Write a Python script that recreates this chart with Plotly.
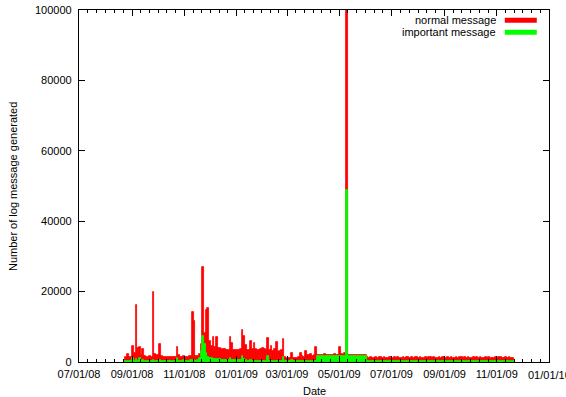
import pandas as pd
import numpy as np
import plotly.graph_objects as go

# ---- data (2-day bins starting 2008-08-22) ----
start_date = "2008-08-22"
bin_days = 2

normal_msg = [
    600, 1500, 2400, 1400, 1300, 4500, 2500, 16200, 3900, 4300,
    2000, 3600, 1800, 1500, 1400, 1600, 1500, 19800, 2200, 2000,
    1900, 5000, 1800, 1500, 1400, 1300, 1500, 1300, 1400, 1500,
    1400, 4300, 2000, 1500, 1400, 1600, 1500, 1400, 1700, 1600,
    14200, 11600, 1800, 1700, 2200, 5200, 27000, 8200, 14800, 15400,
    6000, 4500, 7000, 4200, 7000, 4000, 3900, 3800, 3700, 3600,
    3500, 3400, 7000, 5500, 3400, 3500, 3300, 3400, 3600, 9100,
    7300, 4800, 3500, 3400, 6000, 3600, 5300, 3700, 3500, 3400,
    3600, 4000, 3600, 3500, 6900, 3500, 4600, 3200, 3600, 5600,
    2800, 3000, 3400, 6500, 1500, 1200, 1100, 1000, 2500, 1200,
    1000, 1100, 1300, 2700, 1800, 1400, 3100, 2000, 1900, 2400,
    1800, 2100, 4300, 2100, 2000, 2100, 2000, 2200, 2000, 2100,
    2000, 2100, 2000, 2200, 2100, 2000, 4300, 2200, 2100, 2600,
    130000, 2100, 2000, 2100, 2000, 2000, 2100, 2000, 2000, 2100,
    2000, 2000, 1300, 1250, 1300, 1250, 1200, 1300, 1250, 1300,
    1350, 1250, 1300, 1200, 1250, 1300, 1400, 1250, 1300, 1250,
    1300, 1250, 1200, 1300, 1250, 1350, 1300, 1250, 1300, 1250,
    1450, 1300, 1250, 1300, 1200, 1250, 1300, 1250, 1300, 1350,
    1250, 1300, 1250, 1200, 1300, 1250, 1300, 1400, 1250, 1300,
    1250, 1300, 1200, 1250, 1300, 1250, 1350, 1300, 1250, 1300,
    1250, 1300, 1250, 1200, 1300, 1250, 1300, 1250, 1300, 1250,
    1200, 1300, 1250, 1300, 1250, 1200, 1250, 1300, 1250, 1300,
    1300, 1250, 1200, 1300, 1250, 1300, 1250, 1200,
]

important_msg = [
    200, 300, 400, 300, 300, 1000, 400, 800, 400, 1000,
    400, 500, 400, 300, 400, 300, 400, 500, 400, 300,
    400, 500, 300, 400, 300, 400, 300, 400, 300, 400,
    400, 1000, 400, 300, 400, 500, 400, 300, 400, 500,
    600, 500, 400, 500, 1000, 3000, 7400, 5000, 2500, 1500,
    1000, 1000, 900, 900, 800, 800, 800, 700, 700, 700,
    600, 600, 1000, 500, 500, 500, 500, 500, 500, 1800,
    800, 500, 400, 400, 500, 400, 400, 400, 400, 400,
    400, 400, 400, 400, 1800, 400, 400, 400, 400, 400,
    400, 400, 400, 1400, 300, 200, 200, 200, 600, 200,
    200, 300, 300, 300, 300, 300, 300, 300, 300, 300,
    300, 300, 300, 1800, 1800, 1800, 1800, 1800, 1800, 1800,
    1800, 1800, 1800, 1800, 1800, 1800, 1800, 1800, 1800, 1800,
    49000, 1800, 1800, 1800, 1800, 1800, 1800, 1800, 1800, 1800,
    1800, 1800, 200, 200, 200, 200, 200, 200, 200, 200,
    200, 200, 200, 200, 200, 200, 200, 200, 200, 200,
    200, 200, 200, 200, 200, 200, 200, 200, 200, 200,
    200, 200, 200, 200, 200, 200, 200, 200, 200, 200,
    200, 200, 200, 200, 200, 200, 200, 200, 200, 200,
    200, 200, 200, 200, 200, 200, 200, 200, 200, 200,
    200, 200, 200, 200, 200, 200, 200, 200, 200, 200,
    200, 200, 200, 200, 200, 200, 200, 200, 200, 200,
    200, 200, 200, 200, 200, 200, 200, 200,
]

series_names = ["normal message", "important message"]
series_colors = ["#ff0000", "#00ff00"]

major_ticks = ["2008-07-01", "2008-09-01", "2008-11-01", "2009-01-01", "2009-03-01",
               "2009-05-01", "2009-07-01", "2009-09-01", "2009-11-01", "2010-01-01"]
y_ticks = [0, 20000, 40000, 60000, 80000, 100000]

x_title = "Date"
y_title = "Number of log message generated"

# ---- build ----
n = min(len(normal_msg), len(important_msg))
starts = pd.date_range(start_date, periods=n, freq=f"{bin_days}D")
centers = starts + pd.Timedelta(days=bin_days / 2)
width_ms = bin_days * 86400000

fig = go.Figure()
for vals, name, col in [(normal_msg, series_names[0], series_colors[0]),
                        (important_msg, series_names[1], series_colors[1])]:
    fig.add_trace(go.Bar(x=centers, y=vals[:n], width=width_ms, name=name,
                         marker=dict(color=col, line=dict(color=col, width=0.8)),
                         showlegend=False))

# minor ticks: 6 subdivisions between major ticks
mt = pd.to_datetime(major_ticks)
minor_vals = []
for a, b in zip(mt[:-1], mt[1:]):
    step = (b - a) / 6
    for i in range(1, 6):
        minor_vals.append(a + step * i)

font = "Liberation Sans, Arial, sans-serif"
fig.update_layout(
    width=566, height=397,
    margin=dict(l=79, r=17, t=10, b=35),
    paper_bgcolor="white", plot_bgcolor="white",
    barmode="overlay", bargap=0,
    font=dict(family=font, size=11, color="black"),
    xaxis=dict(
        type="date", range=["2008-07-01", "2010-01-01"],
        tickmode="array", tickvals=major_ticks, tickformat="%m/%d/%y",
        ticks="inside", ticklen=6, tickcolor="black", tickwidth=1,
        showline=True, linecolor="black", linewidth=1.3, mirror="ticks",
        showgrid=False, zeroline=False, ticklabelstandoff=2,
        minor=dict(tickmode="array", tickvals=minor_vals, ticks="inside", ticklen=3,
                   tickcolor="black", showgrid=False),
        automargin=False,
    ),
    yaxis=dict(
        range=[0, 100000], tickmode="array", tickvals=y_ticks, tickformat="d",
        ticks="inside", ticklen=6, tickcolor="black", tickwidth=1,
        showline=True, linecolor="black", linewidth=1.3, mirror="ticks",
        showgrid=False, zeroline=False, ticklabelstandoff=4,
        automargin=False,
    ),
)

# last x tick label (plotly hides it because it overflows the page; reference shows it clipped)
last_tick = major_ticks[-1]
fig.add_annotation(xref="x", yref="paper", x=last_tick, y=0, yshift=-13,
                   text=pd.to_datetime(last_tick).strftime("%m/%d/%y"),
                   showarrow=False, xanchor="center", yanchor="middle")

# axis titles
fig.add_annotation(xref="paper", yref="paper", x=0.5, y=0, yshift=-29, text=x_title,
                   showarrow=False, xanchor="center", yanchor="middle")
fig.add_annotation(xref="paper", yref="paper", x=0, y=0.497, xshift=-66, text=y_title,
                   textangle=-90, showarrow=False, xanchor="center", yanchor="middle")

# gnuplot-style key (text right-aligned, sample line to the right)
for i, (name, col) in enumerate(zip(series_names, series_colors)):
    yk = 0.971 - i * 0.034
    fig.add_annotation(xref="paper", yref="paper", x=0.892, y=yk, text=name,
                       showarrow=False, xanchor="right", yanchor="middle",
                       font=dict(family=font, size=11, color="black"))
    fig.add_shape(type="line", xref="paper", yref="paper", x0=0.906, x1=0.974,
                  y0=yk, y1=yk, line=dict(color=col, width=5))

fig.write_html("out.html")
